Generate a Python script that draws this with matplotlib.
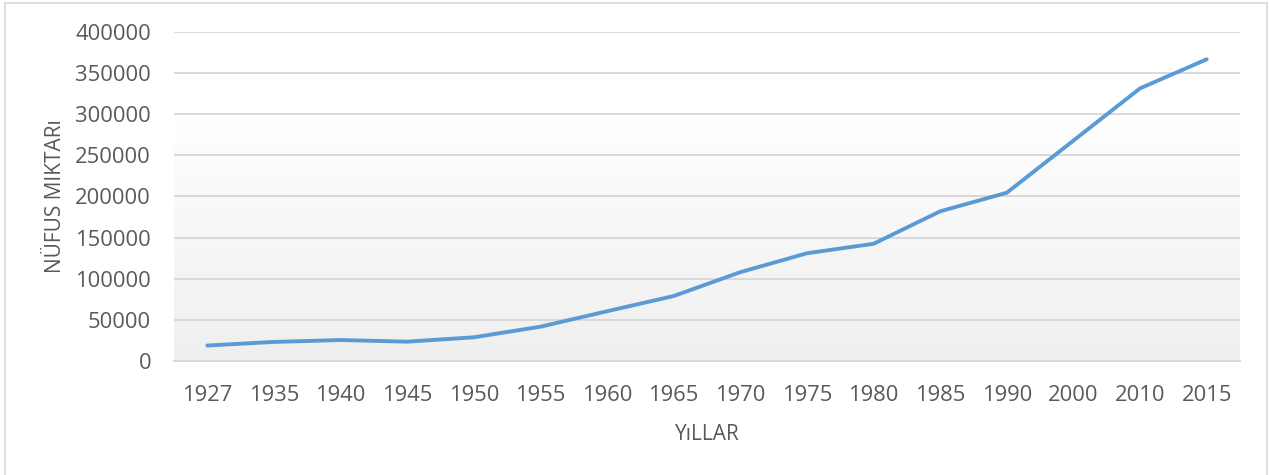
import matplotlib

matplotlib.use("Agg")

import matplotlib.pyplot as plt
import numpy as np
from matplotlib.colors import LinearSegmentedColormap
from matplotlib.patches import Rectangle

YEARS = ["1927", "1935", "1940", "1945", "1950", "1955", "1960", "1965",
         "1970", "1975", "1980", "1985", "1990", "2000", "2010", "2015"]
POPULATION = [18800, 23200, 25500, 23500, 28800, 41700, 60500, 79000,
              108000, 131000, 142500, 182000, 204600, 268000, 331500, 366800]
Y_TICKS = [0, 50000, 100000, 150000, 200000, 250000, 300000, 350000, 400000]

TEXT = "#595959"
GRID = "#D9D9D9"
LINE = "#5B9BD5"

plt.rcParams["font.family"] = ["Open Sans", "DejaVu Sans"]

fig = plt.figure(figsize=(12.69, 4.75), dpi=100)
ax = fig.add_axes([174 / 1269, 1 - 361 / 475, (1240 - 174) / 1269, (361 - 32) / 475])

# chart border
fig.patches.append(Rectangle((5 / 1269, -0.01), 1262 / 1269, 1 - 3 / 475 + 0.01,
                             transform=fig.transFigure, fill=False,
                             edgecolor="#D9D9D9", linewidth=1.2))

x = np.arange(len(YEARS))
n = len(YEARS)

# plot area gradient: white at top, light grey at bottom
grad = np.linspace(0, 1, 256)
grad = np.clip((grad - 0.25) / 0.75, 0, 1)[:, None]
cmap = LinearSegmentedColormap.from_list("bg", ["#FFFFFF", "#EFEFEF"])
ax.imshow(grad, aspect="auto", cmap=cmap, origin="upper",
          extent=(-0.5, n - 0.5, 0, 400000), zorder=0, interpolation="bilinear")
ax.set_xlim(-0.5, n - 0.5)
ax.set_ylim(0, 400000)

ax.set_yticks(Y_TICKS)
ax.set_yticklabels([str(v) for v in Y_TICKS])
ax.grid(axis="y", color=GRID, linewidth=1.4, zorder=1)
ax.set_axisbelow(False)

ax.plot(x, POPULATION, color=LINE, linewidth=2.8, solid_capstyle="round",
        solid_joinstyle="round", zorder=3)

ax.set_xticks(x)
ax.set_xticklabels(YEARS)
for side in ["top", "right", "left"]:
    ax.spines[side].set_visible(False)
ax.spines["bottom"].set_color(GRID)
ax.spines["bottom"].set_linewidth(1.4)
ax.tick_params(axis="both", length=0, labelsize=15.8, colors=TEXT)
ax.tick_params(axis="x", pad=17)
ax.tick_params(axis="y", pad=16.5)

ax.set_xlabel("YıLLAR", fontsize=15, color=TEXT, labelpad=13)
ax.set_ylabel("NÜFUS MIKTARı", fontsize=15, color=TEXT, labelpad=7)

fig.savefig("out.png", dpi=100)
